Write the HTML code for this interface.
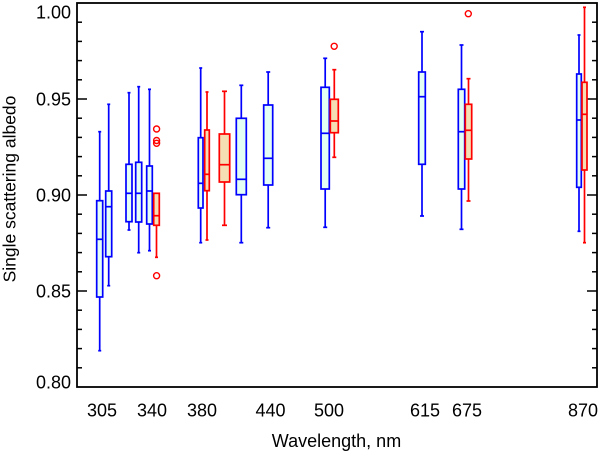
<!DOCTYPE html>
<html>
<head>
<meta charset="utf-8">
<style>
html,body{margin:0;padding:0;background:#fff;}
svg{display:block;}
text{font-family:"Liberation Sans",Arial,sans-serif;fill:#000;}
</style>
</head>
<body>
<svg width="600" height="451" viewBox="0 0 600 451" xmlns="http://www.w3.org/2000/svg">
<rect x="0" y="0" width="600" height="451" fill="#fff"/>

<!-- ticks -->
<g stroke="#000" stroke-width="1.5">
  <!-- left minor -->
  <line x1="77" y1="22.2" x2="82" y2="22.2"/>
  <line x1="77" y1="41.4" x2="82" y2="41.4"/>
  <line x1="77" y1="60.6" x2="82" y2="60.6"/>
  <line x1="77" y1="79.8" x2="82" y2="79.8"/>
  <line x1="77" y1="99" x2="87" y2="99"/>
  <line x1="77" y1="118.2" x2="82" y2="118.2"/>
  <line x1="77" y1="137.4" x2="82" y2="137.4"/>
  <line x1="77" y1="156.6" x2="82" y2="156.6"/>
  <line x1="77" y1="175.8" x2="82" y2="175.8"/>
  <line x1="77" y1="195" x2="87" y2="195"/>
  <line x1="77" y1="214.2" x2="82" y2="214.2"/>
  <line x1="77" y1="233.4" x2="82" y2="233.4"/>
  <line x1="77" y1="252.6" x2="82" y2="252.6"/>
  <line x1="77" y1="271.8" x2="82" y2="271.8"/>
  <line x1="77" y1="291" x2="87" y2="291"/>
  <line x1="77" y1="310.2" x2="82" y2="310.2"/>
  <line x1="77" y1="329.4" x2="82" y2="329.4"/>
  <line x1="77" y1="348.6" x2="82" y2="348.6"/>
  <line x1="77" y1="367.8" x2="82" y2="367.8"/>
  <!-- right -->
  <line x1="597" y1="22.2" x2="592" y2="22.2"/>
  <line x1="597" y1="41.4" x2="592" y2="41.4"/>
  <line x1="597" y1="60.6" x2="592" y2="60.6"/>
  <line x1="597" y1="79.8" x2="592" y2="79.8"/>
  <line x1="597" y1="99" x2="587" y2="99"/>
  <line x1="597" y1="118.2" x2="592" y2="118.2"/>
  <line x1="597" y1="137.4" x2="592" y2="137.4"/>
  <line x1="597" y1="156.6" x2="592" y2="156.6"/>
  <line x1="597" y1="175.8" x2="592" y2="175.8"/>
  <line x1="597" y1="195" x2="587" y2="195"/>
  <line x1="597" y1="214.2" x2="592" y2="214.2"/>
  <line x1="597" y1="233.4" x2="592" y2="233.4"/>
  <line x1="597" y1="252.6" x2="592" y2="252.6"/>
  <line x1="597" y1="271.8" x2="592" y2="271.8"/>
  <line x1="597" y1="291" x2="587" y2="291"/>
  <line x1="597" y1="310.2" x2="592" y2="310.2"/>
  <line x1="597" y1="329.4" x2="592" y2="329.4"/>
  <line x1="597" y1="348.6" x2="592" y2="348.6"/>
  <line x1="597" y1="367.8" x2="592" y2="367.8"/>
</g>

<!-- whiskers -->
<g stroke-width="1.7" fill="none">
  <g stroke="#0000ff">
    <line x1="99.7" y1="131.7" x2="99.7" y2="350.7"/><line x1="98.2" y1="131.7" x2="101.2" y2="131.7"/><line x1="98.2" y1="350.7" x2="101.2" y2="350.7"/>
    <line x1="108.7" y1="104.3" x2="108.7" y2="285.7"/><line x1="107.2" y1="104.3" x2="110.2" y2="104.3"/><line x1="107.2" y1="285.7" x2="110.2" y2="285.7"/>
    <line x1="129" y1="92.7" x2="129" y2="230"/><line x1="127.5" y1="92.7" x2="130.5" y2="92.7"/><line x1="127.5" y1="230" x2="130.5" y2="230"/>
    <line x1="138.7" y1="86.7" x2="138.7" y2="252.7"/><line x1="137.2" y1="86.7" x2="140.2" y2="86.7"/><line x1="137.2" y1="252.7" x2="140.2" y2="252.7"/>
    <line x1="149.5" y1="89.3" x2="149.5" y2="250.7"/><line x1="148" y1="89.3" x2="151" y2="89.3"/><line x1="148" y1="250.7" x2="151" y2="250.7"/>
    <line x1="200.7" y1="68" x2="200.7" y2="242.7"/><line x1="199.2" y1="68" x2="202.2" y2="68"/><line x1="199.2" y1="242.7" x2="202.2" y2="242.7"/>
    <line x1="241.3" y1="85.3" x2="241.3" y2="242.7"/><line x1="239.3" y1="85.3" x2="243.3" y2="85.3"/><line x1="239.3" y1="242.7" x2="243.3" y2="242.7"/>
    <line x1="268.2" y1="72" x2="268.2" y2="227.7"/><line x1="266.2" y1="72" x2="270.2" y2="72"/><line x1="266.2" y1="227.7" x2="270.2" y2="227.7"/>
    <line x1="325.2" y1="58.3" x2="325.2" y2="227.3"/><line x1="323.2" y1="58.3" x2="327.2" y2="58.3"/><line x1="323.2" y1="227.3" x2="327.2" y2="227.3"/>
    <line x1="422" y1="31.7" x2="422" y2="216"/><line x1="420" y1="31.7" x2="424" y2="31.7"/><line x1="420" y1="216" x2="424" y2="216"/>
    <line x1="461.5" y1="45" x2="461.5" y2="229.3"/><line x1="459.5" y1="45" x2="463.5" y2="45"/><line x1="459.5" y1="229.3" x2="463.5" y2="229.3"/>
    <line x1="579" y1="35" x2="579" y2="231.3"/><line x1="577.5" y1="35" x2="580.5" y2="35"/><line x1="577.5" y1="231.3" x2="580.5" y2="231.3"/>
  </g>
  <g stroke="#ff0000">
    <line x1="156.5" y1="193.3" x2="156.5" y2="257.3"/><line x1="155" y1="257.3" x2="158" y2="257.3"/>
    <line x1="207" y1="92" x2="207" y2="240"/><line x1="205.5" y1="92" x2="208.5" y2="92"/><line x1="205.5" y1="240" x2="208.5" y2="240"/>
    <line x1="224.5" y1="91.3" x2="224.5" y2="225.3"/><line x1="222" y1="91.3" x2="227" y2="91.3"/><line x1="222" y1="225.3" x2="227" y2="225.3"/>
    <line x1="334.3" y1="69.7" x2="334.3" y2="157.3"/><line x1="332.3" y1="69.7" x2="336.3" y2="69.7"/><line x1="332.3" y1="157.3" x2="336.3" y2="157.3"/>
    <line x1="468.5" y1="78.7" x2="468.5" y2="201"/><line x1="466.5" y1="78.7" x2="470.5" y2="78.7"/><line x1="466.5" y1="201" x2="470.5" y2="201"/>
    <line x1="584.5" y1="7.3" x2="584.5" y2="242.7"/><line x1="583" y1="7.3" x2="586" y2="7.3"/><line x1="583" y1="242.7" x2="586" y2="242.7"/>
  </g>
</g>

<!-- boxes -->
<g stroke-width="1.7">
  <g stroke="#0000ff" fill="#e4fff4">
    <rect x="96.7" y="200.7" width="6" height="96.3"/><line x1="96.7" y1="239.3" x2="102.7" y2="239.3"/>
    <rect x="105.7" y="191" width="6" height="65.7"/><line x1="105.7" y1="206.7" x2="111.7" y2="206.7"/>
    <rect x="126" y="164.3" width="6" height="57.4"/><line x1="126" y1="193.3" x2="132" y2="193.3"/>
    <rect x="135.7" y="162.3" width="6" height="59.7"/><line x1="135.7" y1="193.3" x2="141.7" y2="193.3"/>
    <rect x="146.7" y="166" width="5.6" height="58"/><line x1="146.7" y1="191" x2="152.3" y2="191"/>
    <rect x="198.3" y="137.7" width="4.7" height="70.3"/><line x1="198.3" y1="183.3" x2="203" y2="183.3"/>
    <rect x="236.3" y="118.3" width="10" height="76.4"/><line x1="236.3" y1="179.3" x2="246.3" y2="179.3"/>
    <rect x="263.7" y="105" width="9" height="80"/><line x1="263.7" y1="158.3" x2="272.7" y2="158.3"/>
    <rect x="321" y="87.3" width="8.3" height="101.7"/><line x1="321" y1="133.3" x2="329.3" y2="133.3"/>
    <rect x="418.7" y="72" width="6.6" height="92.3"/><line x1="418.7" y1="96.7" x2="425.3" y2="96.7"/>
    <rect x="458.3" y="89.3" width="6.4" height="99.7"/><line x1="458.3" y1="131.7" x2="464.7" y2="131.7"/>
    <rect x="576.7" y="74" width="4.6" height="113.3"/><line x1="576.7" y1="120" x2="581.3" y2="120"/>
  </g>
  <g stroke="#ff0000" fill="#f5deb3">
    <rect x="153.7" y="193.3" width="5.6" height="32"/><line x1="153.7" y1="215.7" x2="159.3" y2="215.7"/>
    <rect x="204.7" y="130" width="4.6" height="60.7"/><line x1="204.7" y1="174.3" x2="209.3" y2="174.3"/>
    <rect x="219.3" y="134" width="10.4" height="48"/><line x1="219.3" y1="164.7" x2="229.7" y2="164.7"/>
    <rect x="330.3" y="99.3" width="8" height="33.4"/><line x1="330.3" y1="121" x2="338.3" y2="121"/>
    <rect x="465.3" y="104.3" width="6.4" height="54.7"/><line x1="465.3" y1="130.3" x2="471.7" y2="130.3"/>
    <rect x="582" y="82.3" width="5" height="87.7"/><line x1="582" y1="114.3" x2="587" y2="114.3"/>
  </g>
</g>

<!-- outliers -->
<g stroke="#ff0000" stroke-width="1.4" fill="none">
  <circle cx="156.6" cy="129" r="3"/>
  <circle cx="156.6" cy="140.5" r="3"/>
  <circle cx="156.6" cy="143.3" r="3"/>
  <circle cx="156.6" cy="275.7" r="3"/>
  <circle cx="334.2" cy="46.3" r="3"/>
  <circle cx="468.3" cy="13.7" r="3"/>
</g>

<!-- frame -->
<rect x="77" y="3" width="520" height="384" fill="none" stroke="#000" stroke-width="1.8"/>

<!-- y tick labels -->
<g font-size="18" text-anchor="end">
  <text x="71" y="18.5">1.00</text>
  <text x="71" y="105.5">0.95</text>
  <text x="71" y="201.5">0.90</text>
  <text x="71" y="297.5">0.85</text>
  <text x="71" y="388.5">0.80</text>
</g>

<!-- x tick labels -->
<g font-size="18" text-anchor="middle">
  <text x="102" y="416.5">305</text>
  <text x="152" y="416.5">340</text>
  <text x="202" y="416.5">380</text>
  <text x="270.5" y="416.5">440</text>
  <text x="329" y="416.5">500</text>
  <text x="425" y="416.5">615</text>
  <text x="467" y="416.5">675</text>
  <text x="583" y="416.5">870</text>
</g>

<text x="336.5" y="447" font-size="18" text-anchor="middle">Wavelength, nm</text>
<text transform="translate(15.5,189) rotate(-90)" font-size="17.5" text-anchor="middle">Single scattering albedo</text>
</svg>
</body>
</html>
